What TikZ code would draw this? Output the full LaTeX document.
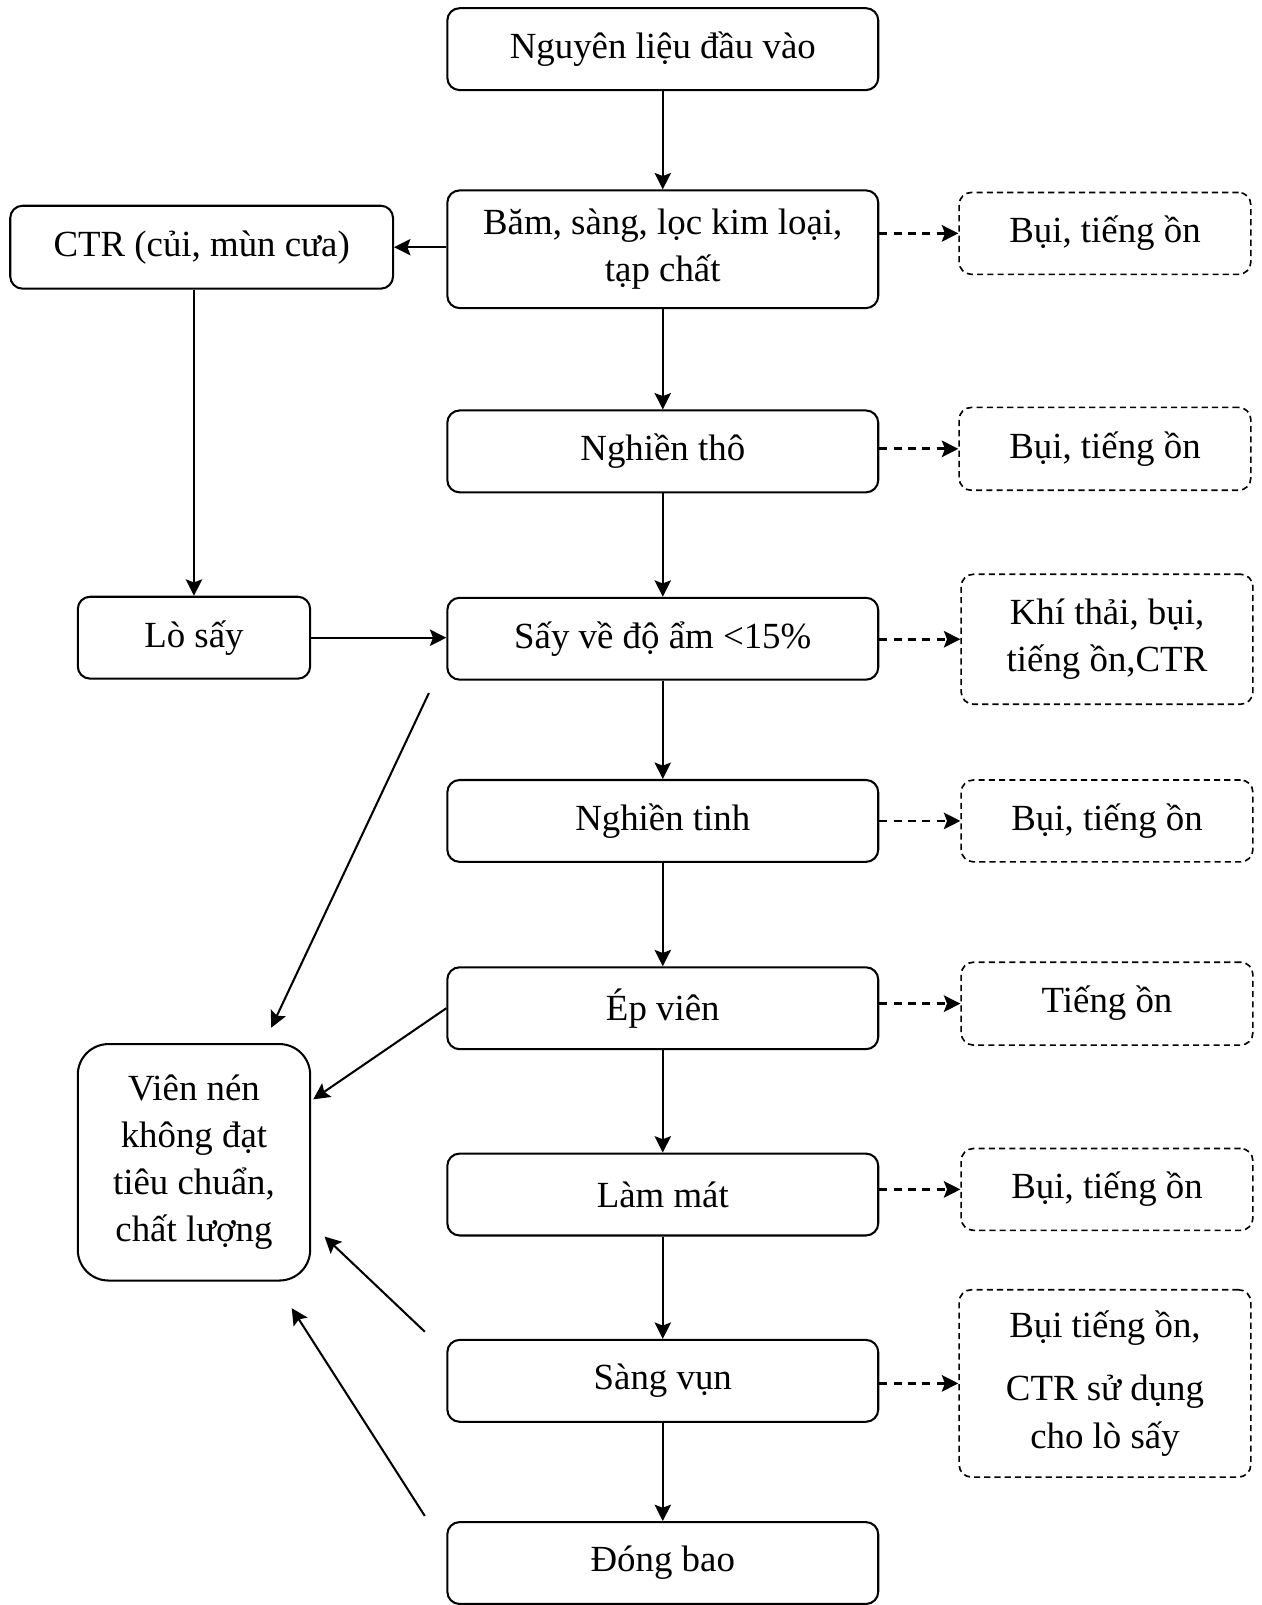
\documentclass[tikz,border=0pt]{standalone}
\usepackage{fontspec}
\setmainfont{Liberation Serif}
\usetikzlibrary{arrows.meta,calc}
\begin{document}
\begin{tikzpicture}[x=0.5pt,y=-0.5pt,
  box/.style={draw, line width=1pt, rounded corners=6pt, align=center, inner sep=0pt,
    font=\fontsize{18}{23}\selectfont},
  proc/.style={box, minimum width=210.5pt, minimum height=40pt},
  waste/.style={box, line width=0.8pt, dash pattern=on 3pt off 2pt, minimum width=142.5pt},
  arr/.style={-{Stealth[length=8pt,width=8pt,inset=1.5pt]}, line width=1pt},
  darr/.style={arr, line width=1.4pt, dash pattern=on 4pt off 3pt},
]
\useasboundingbox (0,0) rectangle (1232,1568);

% main process column
\node[proc, minimum height=57.5pt] (n2) at (647.5,243.5) {Băm, sàng, lọc kim loại,\\tạp chất};
\node[proc] (n1) at (647.5,48) {Nguyên liệu đầu vào};
\node[proc] (n3) at (647.5,441) {Nghiền thô};
\node[proc] (n4) at (647.5,624) {Sấy về độ ẩm <15\%};
\node[proc] (n5) at (647.5,802) {Nghiền tinh};
\node[proc] (n6) at (647.5,985) {Ép viên};
\node[proc] (n7) at (647.5,1167) {Làm mát};
\node[proc] (n8) at (647.5,1349) {Sàng vụn};
\node[proc] (n9) at (647.5,1527) {Đóng bao};

% left column
\node[box, minimum width=187pt, minimum height=40.5pt] (ctr) at (197,241.5) {CTR (củi, mùn cưa)};
\node[box, minimum width=113.5pt, minimum height=40pt] (lo) at (189.5,623) {Lò sấy};
\node[box, rounded corners=15pt, minimum width=113.5pt, minimum height=115.5pt] (vn) at (189.5,1135.5)
  {Viên nén\\không đạt\\tiêu chuẩn,\\chất lượng};

% emissions column
\node[waste, minimum height=40pt] (b1) at (1079.5,228) {Bụi, tiếng ồn};
\node[waste, minimum height=40.5pt] (b2) at (1079.5,438.5) {Bụi, tiếng ồn};
\node[waste, minimum height=63.5pt] (b3) at (1081.5,624.5) {Khí thải, bụi,\\tiếng ồn,CTR};
\node[waste, minimum height=40pt] (b4) at (1081.5,802) {Bụi, tiếng ồn};
\node[waste, minimum height=40.5pt] (b5) at (1081.5,980.5) {\raisebox{4pt}{Tiếng ồn}};
\node[waste, minimum height=40pt] (b6) at (1081.5,1162) {Bụi, tiếng ồn};
\node[waste, minimum height=91.5pt] (b7) at (1079.5,1351.5) {Bụi tiếng ồn,\\[8pt]CTR sử dụng\\cho lò sấy};

% main flow
\draw[arr] (n1) -- (n2);
\draw[arr] (n2) -- (n3);
\draw[arr] (n3) -- (n4);
\draw[arr] (n4) -- (n5);
\draw[arr] (n5) -- (n6);
\draw[arr] (n6) -- (n7);
\draw[arr] (n7) -- (n8);
\draw[arr] (n8) -- (n9);

% side flows
\draw[arr] (n2.west |- ctr) -- (ctr.east);
\draw[arr] (ctr.south -| lo) -- (lo.north);
\draw[arr] (lo.east) -- (n4.west |- lo);

% emissions
\draw[darr] (n2.east |- b1) -- (b1.west);
\draw[darr] (n3.east |- b2) -- (b2.west);
\draw[darr] (n4.east |- b3) -- (b3.west);
\draw[darr] (n5.east |- b4) -- (b4.west);
\draw[darr] (n6.east |- b5) -- (b5.west);
\draw[darr] (n7.east |- b6) -- (b6.west);
\draw[darr] (n8.east |- b7) -- (b7.west);

% rejected pellets
\draw[arr] ($(n4.south west)+(-17,12)$) -- ($(vn.north)+(75.5,-15)$);
\draw[arr] (n6.west) -- ($(vn.north east)+(2,55)$);
\draw[arr] ($(n8.north west)+(-21,-7)$) -- ($(vn.south east)+(13,-44)$);
\draw[arr] ($(n9.north west)+(-21,-5)$) -- ($(vn.south east)+(-19,26)$);
\end{tikzpicture}
\end{document}
